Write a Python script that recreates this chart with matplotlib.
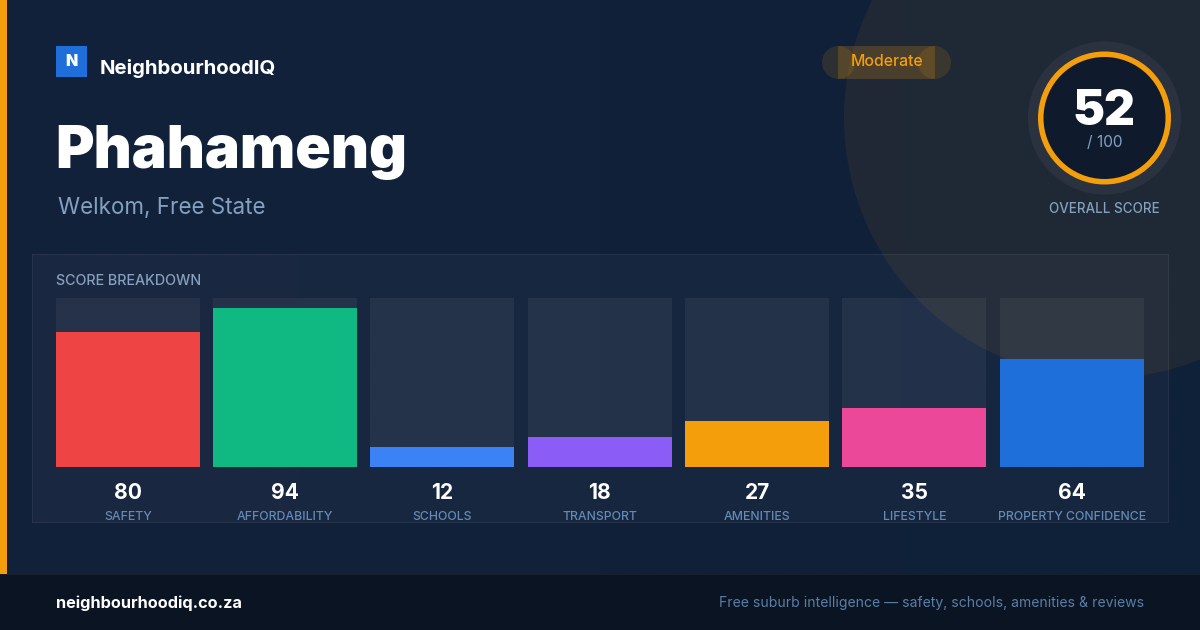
import matplotlib
matplotlib.use("Agg")
import matplotlib.pyplot as plt
from matplotlib.patches import Circle, Rectangle
import numpy as np

plt.rcParams['font.family'] = ['Inter', 'DejaVu Sans']

categories = ["SAFETY", "AFFORDABILITY", "SCHOOLS", "TRANSPORT", "AMENITIES",
              "LIFESTYLE", "PROPERTY CONFIDENCE"]
scores = [80, 94, 12, 18, 27, 35, 64]
bar_colors = ["#ef4444", "#10b981", "#3b82f6", "#8b5cf6", "#f59e0b", "#ec4899", "#1e6fd9"]
overall_score = 52
score_max = 100
W, H = 1200, 630
ORANGE = "#f59e0b"


def px(size):
    return size * 0.72


fig = plt.figure(figsize=(W / 100, H / 100), dpi=100)

# page layer, coordinates are pixels from the top left
bg = fig.add_axes([0, 0, 1, 1], zorder=0)
bg.set_xlim(0, W)
bg.set_ylim(H, 0)
bg.axis("off")

left_c = np.array([0x13, 0x22, 0x3b])
right_c = np.array([0x0f, 0x20, 0x39])
t = np.linspace(0, 1, 1200)[:, None, None]
grad = (left_c[None, None, :] * (1 - t) + right_c[None, None, :] * t) / 255
bg.imshow(np.transpose(grad, (1, 0, 2)), extent=(0, W, H, 0), aspect="auto", zorder=0)

for gx in range(24, W, 32):
    for gy in range(24, 574, 32):
        bg.add_patch(Rectangle((gx - 1, gy - 1), 2, 2, fc="white", alpha=0.02, lw=0, zorder=1))

bg.add_patch(Circle((1104, 118), 260, fc=ORANGE, alpha=0.07, lw=0, zorder=2))

# side strip and footer
bg.add_patch(Rectangle((0, 0), 7, 574, fc=ORANGE, lw=0, zorder=3))
bg.add_patch(Rectangle((0, 574), W, 56, fc="#0a1422", lw=0, zorder=3))
bg.add_patch(Rectangle((0, 574), W, 1, fc="#ffffff", alpha=0.05, lw=0, zorder=4))

# brand
bg.add_patch(Rectangle((56, 46), 31, 31, fc="#1e6fd9", lw=0, zorder=4))
bg.text(71.5, 61, "N", color="white", fontsize=px(16), fontweight="black", ha="center", va="center", zorder=5)
bg.text(100, 68, "NeighbourhoodIQ", color="white", fontsize=px(20.35), fontweight="bold", va="center", zorder=5)
bg.text(55, 168, "Phahameng", color="white", fontsize=px(58.9), fontweight="black", va="baseline", zorder=5)
bg.text(58, 214, "Welkom, Free State", color="#83a0c0", fontsize=px(22.4), va="baseline", zorder=5)

# pill, the ends overlap the middle like in the original
bg.add_patch(Rectangle((838, 46), 97, 33, fc=ORANGE, alpha=0.2, lw=0, zorder=4))
bg.add_patch(Circle((838.5, 62.5), 16.5, fc=ORANGE, alpha=0.13, lw=0, zorder=4))
bg.add_patch(Circle((934.5, 62.5), 16.5, fc=ORANGE, alpha=0.13, lw=0, zorder=4))
bg.text(887, 62, "Moderate", color=ORANGE, fontsize=px(15.8), fontweight="medium", ha="center", va="center", zorder=5)

# score ring
bg.add_patch(Circle((1104.5, 118), 76.5, fc="#ffffff", alpha=0.05, lw=0, zorder=4))
bg.add_patch(Circle((1104.5, 118), 66.5, fc=ORANGE, lw=0, zorder=5))
bg.add_patch(Circle((1104.5, 118), 61, fc="#0f1b2d", lw=0, zorder=6))
bg.text(1104, 125, str(overall_score), color="white", fontsize=px(48), fontweight="black", ha="center", va="baseline", zorder=7)
bg.text(1104.5, 147, "/ %d" % score_max, color="#83a0c0", fontsize=px(15.5), ha="center", va="baseline", zorder=7)
bg.text(1104.5, 213, "OVERALL SCORE", color="#86a0bf", fontsize=px(13.4), fontweight="medium", ha="center", va="baseline", zorder=7)

# breakdown panel, border as 1px strips so it lands on whole pixels
bg.add_patch(Rectangle((32, 254), 1137, 269, fc="#ffffff", alpha=0.03, lw=0, zorder=3))
for rx, ry, rw, rh in [(32, 254, 1137, 1), (32, 522, 1137, 1), (32, 255, 1, 267), (1168, 255, 1, 267)]:
    bg.add_patch(Rectangle((rx, ry), rw, rh, fc="#ffffff", alpha=0.06, lw=0, zorder=3))
bg.text(56, 285, "SCORE BREAKDOWN", color="#86a0bf", fontsize=px(14.3), fontweight="medium", va="baseline", zorder=5)

# footer text
bg.text(56, 608, "neighbourhoodiq.co.za", color="white", fontsize=px(16.3), fontweight="bold", va="baseline", zorder=5)
bg.text(1144, 607, "Free suburb intelligence \u2014 safety, schools, amenities & reviews", color="#5b7ea6",
        fontsize=px(14.03), ha="right", va="baseline", zorder=5)

# bars on a real 0-100 scale
ax = fig.add_axes([55.7 / W, 1 - 467 / H, 1088 / W, 169 / H], zorder=1)
ax.patch.set_alpha(0)
x = np.arange(len(categories))
step = (1088 - 144) / (len(categories) - 1)
bar_w = 144 / step
ax.bar(x, [score_max] * len(x), width=bar_w, color="#ffffff", alpha=0.055, linewidth=0)
ax.bar(x, scores, width=bar_w, color=bar_colors, linewidth=0)
ax.set_xlim(-bar_w / 2, len(x) - 1 + bar_w / 2)
ax.set_ylim(0, score_max)
for s in ax.spines.values():
    s.set_visible(False)
ax.set_yticks([])
ax.set_xticks(x)
ax.set_xticklabels(categories, color="#648ab3", fontsize=px(12.3), fontweight="medium")
ax.tick_params(axis="x", length=0, pad=31.5)
for i, v in enumerate(scores):
    ax.annotate(str(v), xy=(i, 0), xytext=(0, -32), textcoords="offset pixels", color="white",
                fontsize=px(21), fontweight="bold", ha="center", va="baseline")

fig.savefig("out.png", dpi=100)
